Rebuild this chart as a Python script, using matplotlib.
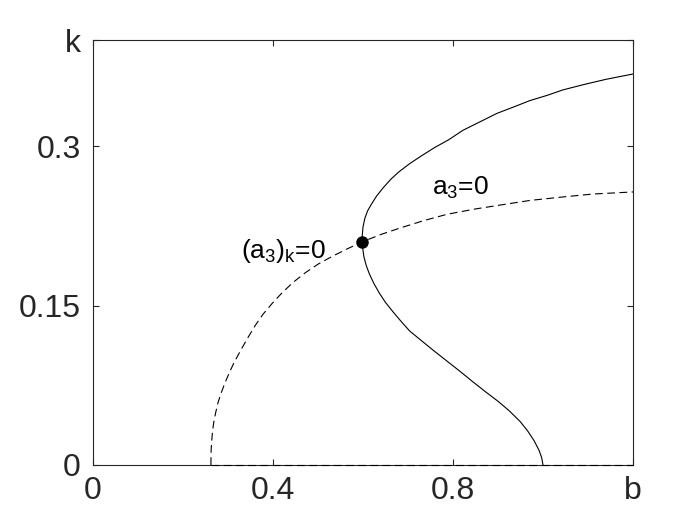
import matplotlib
matplotlib.use("Agg")
from matplotlib import pyplot as plt

solid_b = [1.200, 1.140, 1.090, 1.044, 1.010, 0.971, 0.935, 0.898, 0.860, 0.822,
           0.790, 0.760, 0.730, 0.705, 0.680, 0.662, 0.645, 0.630, 0.618, 0.610,
           0.604, 0.600, 0.598, 0.599, 0.602, 0.607, 0.614, 0.624, 0.636, 0.650,
           0.667, 0.685, 0.704, 0.730, 0.756, 0.786, 0.816, 0.845, 0.872, 0.900,
           0.925, 0.949, 0.966, 0.980, 0.991, 0.997, 1.000]
solid_k = [0.368, 0.363, 0.358, 0.353, 0.348, 0.343, 0.337, 0.331, 0.323, 0.315,
           0.306, 0.299, 0.291, 0.284, 0.276, 0.269, 0.261, 0.253, 0.245, 0.239,
           0.232, 0.224, 0.214, 0.205, 0.196, 0.188, 0.180, 0.171, 0.162, 0.153,
           0.144, 0.135, 0.126, 0.117, 0.108, 0.098, 0.088, 0.078, 0.069, 0.060,
           0.051, 0.041, 0.032, 0.023, 0.014, 0.007, 0.000]

# dashed curve a3=0
dash_b = [0.262, 0.2625, 0.264, 0.266, 0.269, 0.273, 0.278, 0.285, 0.293, 0.302,
          0.313, 0.327, 0.343, 0.360, 0.378, 0.398, 0.420, 0.445, 0.472, 0.500,
          0.530, 0.563, 0.598, 0.640, 0.682, 0.735, 0.787, 0.850, 0.910, 0.971,
          1.038, 1.110, 1.200]
dash_k = [0.000, 0.014, 0.024, 0.033, 0.042, 0.050, 0.059, 0.068, 0.077, 0.086,
          0.096, 0.107, 0.119, 0.131, 0.142, 0.152, 0.162, 0.172, 0.181, 0.189,
          0.196, 0.203, 0.210, 0.217, 0.223, 0.230, 0.236, 0.241, 0.245, 0.249,
          0.252, 0.255, 0.257]

# dashed k=0 branch along the axis
zero_b = [0.262, 1.200]
zero_k = [0.0, 0.0]

# the marked point
dot_b = [0.598]
dot_k = [0.210]

xticks = [0, 0.4, 0.8, 1.2]
xlabels = ['0', '0.4', '0.8', 'b']
yticks = [0, 0.15, 0.3, 0.4]
ylabels = ['0', '0.15', '0.3', 'k']

plt.rcParams['font.family'] = ['Liberation Sans', 'DejaVu Sans']
plt.rcParams['mathtext.fontset'] = 'custom'
plt.rcParams['mathtext.rm'] = 'Liberation Sans'
plt.rcParams['mathtext.it'] = 'Liberation Sans'

axcol = '#262626'

fig = plt.figure(figsize=(7, 5.25), dpi=100)
ax = fig.add_axes([93/700, 60/525, 540/700, 425/525])

ax.plot(solid_b, solid_k, color='black', lw=0.8)
ax.plot(dash_b, dash_k, color='black', lw=0.8, dashes=(7, 4))
ax.plot(zero_b, zero_k, color='black', lw=0.8, dashes=(7, 4), clip_on=False, zorder=3)
ax.plot(dot_b, dot_k, 'o', color='black', markersize=8)

# labels on the curves
ax.text(0.753, 0.254, r'a$_\mathregular{3}$=0', fontsize=19, ha='left', va='baseline')
ax.text(0.329, 0.195, r'(a$_\mathregular{3}$)$_\mathregular{k}$=0', fontsize=19,
        ha='left', va='baseline')

ax.set_xlim(0, 1.2)
ax.set_ylim(0, 0.4)
ax.set_xticks(xticks)
ax.set_xticklabels(xlabels)
ax.set_yticks(yticks)
ax.set_yticklabels(ylabels)

ax.tick_params(direction='in', top=True, right=True, length=4, width=0.8,
               labelsize=23, colors=axcol)
ax.tick_params(axis='x', pad=8)
ax.tick_params(axis='y', pad=9)
for s in ax.spines.values():
    s.set_color(axcol)
    s.set_linewidth(0.8)

fig.savefig('out.png', dpi=100, facecolor='white')
